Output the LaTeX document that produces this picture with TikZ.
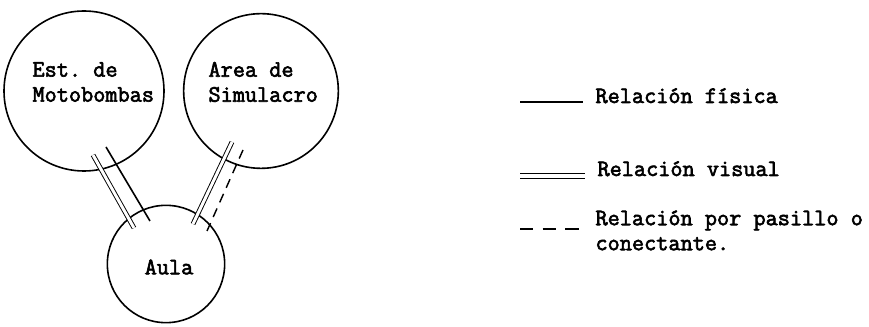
\documentclass[tikz,border=0pt]{standalone}
\usepackage{fontspec}
\setmonofont[FakeBold=2.6]{Latin Modern Mono}

\tikzset{every picture/.style={line width=0.75pt}}

\begin{document}
\begin{tikzpicture}[x=0.75pt,y=0.75pt,yscale=-1,xscale=1,
  zona/.style={draw,circle,line width=1.2pt,inner sep=0},
  rotulo/.style={font=\ttfamily\fontsize{17.7}{18.75}\selectfont,inner sep=0,align=left},
  fisica/.style={line width=1.2pt},
  visual/.style={double,double distance=2.2pt,line width=0.7pt},
  pasillo/.style={line width=1.1pt,dash pattern=on 7pt off 5pt}]
%set diagram left start at 0, and has height of 327
\path[use as bounding box] (0,0) rectangle (869,327);

%Shape: Circle [id:est]
\node[zona,minimum size=120pt] (est) at (84,91) {};
%Shape: Circle [id:sim]
\node[zona,minimum size=116pt] (sim) at (261,91) {};
%Shape: Circle [id:aula]
\node[zona,minimum size=88pt] (aula) at (166,264) {};

% Text Node
\node[rotulo,anchor=west] (t_est) at (32,82) {Est. de\\Motobombas};
% Text Node
\node[rotulo,anchor=west] (t_sim) at (208,82) {Area de\\Simulacro};
% Text Node
\node[rotulo] (t_aula) at (169,267) {Aula};

%Straight Lines [id:est-aula]
\coordinate (ea1) at (93,155);
\coordinate (ea2) at (134,228);
\coordinate (ea3) at (106,147);
\coordinate (ea4) at (150,221);
\draw[visual] (ea1) -- (ea2);
\draw[fisica] (ea3) -- (ea4);
%Straight Lines [id:sim-aula]
\coordinate (sa1) at (232,142);
\coordinate (sa2) at (193,224);
\coordinate (sa3) at (243,150);
\coordinate (sa4) at (207,231);
\draw[visual] (sa1) -- (sa2);
\draw[pasillo] (sa3) -- (sa4);

% Text Node
\node[rotulo,anchor=base west] (l_fis) at (595,103) {Relación física};
% Text Node
\node[rotulo,anchor=base west] (l_vis) at (597,176) {Relación visual};
% Text Node
\node[rotulo,anchor=north west] (l_pas) at (595,210) {Relación por pasillo o\\conectante.};

%Straight Lines [id:legend]
\draw[line width=1pt] (l_fis.base west) ++(-75,-1) -- ++(63,0);
\draw[visual,double distance=3pt] (l_vis.base west) ++(-77,0) -- ++(65,0);
\draw[line width=1.2pt,dash pattern=on 10pt off 7pt] (l_pas.north west) ++(-75,19) -- ++(59,0);

\end{tikzpicture}
\end{document}
